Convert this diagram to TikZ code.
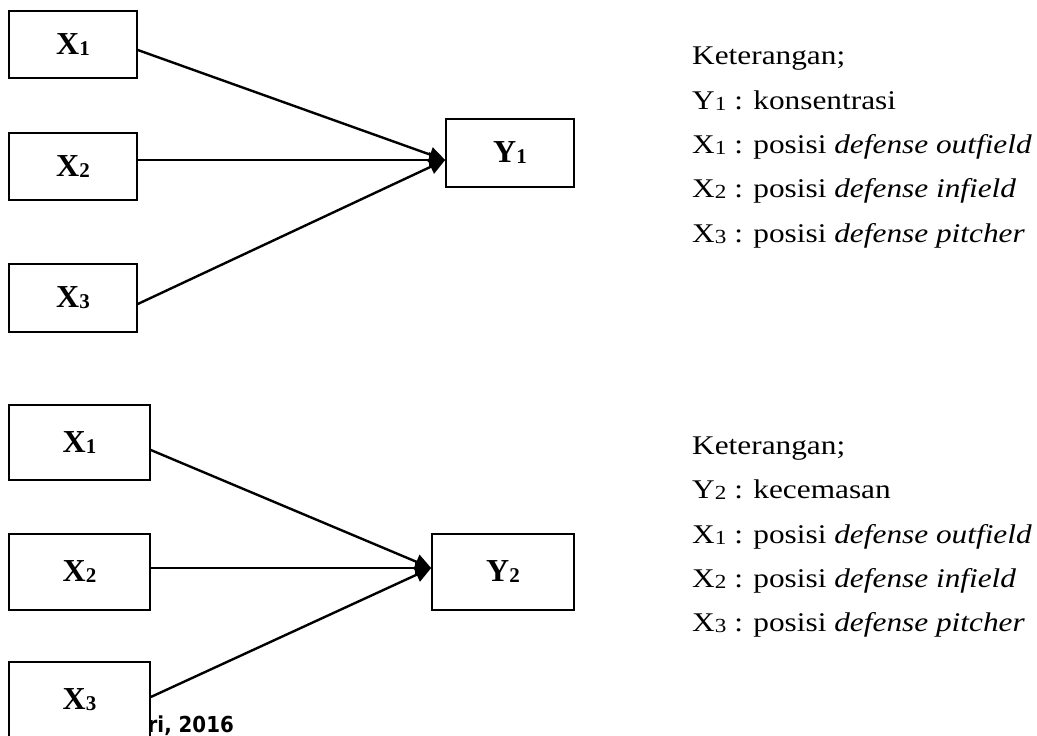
\documentclass[tikz,border=0pt]{standalone}
\usepackage{fontspec}
\setmainfont{Liberation Serif}
\newfontfamily\legendfont[FakeStretch=1.16]{Liberation Serif}
\newfontfamily\footfont[FakeStretch=0.9]{DejaVu Sans}
\usetikzlibrary{arrows.meta,calc}
\newcommand{\lowidx}[1]{\raisebox{-1.5pt}{\fontsize{20}{20}\selectfont #1}}
\newcommand{\boxidx}[1]{\raisebox{-1pt}{\fontsize{21}{21}\selectfont #1}}
\tikzset{
  varbox/.style={draw=black, line width=1.6pt, fill=white, rectangle, inner sep=0pt,
    font=\fontsize{32}{32}\selectfont\bfseries},
  conn/.style={line width=2.4pt, -{Triangle[length=16pt,width=15pt]}},
  legend/.style={anchor=base west, inner sep=0pt, font=\legendfont\fontsize{27}{27}\selectfont},
}
\begin{document}
\begin{tikzpicture}[x=1pt,y=-1pt]
\useasboundingbox (0,0) rectangle (1037,736);
% footer text partly hidden by the X3 box
\node[anchor=base east, inner sep=0pt, font=\footfont\bfseries\fontsize{22}{22}\selectfont] (foot) at (234,732) {ri, 2016};
% top diagram
\node[varbox, minimum width=128pt, minimum height=67pt] (ax1) at (73,44.5) {X\boxidx{1}};
\node[varbox, minimum width=128pt, minimum height=67pt] (ax2) at (73,166.5) {X\boxidx{2}};
\node[varbox, minimum width=128pt, minimum height=68pt] (ax3) at (73,298) {X\boxidx{3}};
\node[varbox, minimum width=128pt, minimum height=68pt] (ay1) at (510,153) {Y\boxidx{1}};
\coordinate (atip) at ([yshift=-7pt]ay1.west);
\draw[conn] ([yshift=-5.5pt]ax1.east) -- (atip);
\draw[conn] ([yshift=6.5pt]ax2.east) -- (atip);
\draw[conn] ([yshift=-6pt]ax3.east) -- (atip);
% bottom diagram
\node[varbox, minimum width=141pt, minimum height=75pt] (bx1) at (79.5,442.5) {X\boxidx{1}};
\node[varbox, minimum width=141pt, minimum height=76pt] (bx2) at (79.5,572) {X\boxidx{2}};
\node[varbox, minimum width=141pt, minimum height=76pt] (bx3) at (79.5,700) {X\boxidx{3}};
\node[varbox, minimum width=142pt, minimum height=76pt] (by2) at (503,572) {Y\boxidx{2}};
\coordinate (btip) at ([yshift=4pt]by2.west);
\draw[conn] ([yshift=-7.5pt]bx1.east) -- (btip);
\draw[conn] ([yshift=4pt]bx2.east) -- (btip);
\draw[conn] ([yshift=3pt]bx3.east) -- (btip);
% legends
\node[legend] (la0) at (692,64) {Keterangan;};
\node[legend] (la1) at (692,109) {Y\lowidx{1} : konsentrasi};
\node[legend] (la2) at (692,153) {X\lowidx{1} : posisi \textit{defense outfield}};
\node[legend] (la3) at (692,197) {X\lowidx{2} : posisi \textit{defense infield}};
\node[legend] (la4) at (692,242) {X\lowidx{3} : posisi \textit{defense pitcher}};
\node[legend] (lb0) at (692,454) {Keterangan;};
\node[legend] (lb1) at (692,498) {Y\lowidx{2} : kecemasan};
\node[legend] (lb2) at (692,543) {X\lowidx{1} : posisi \textit{defense outfield}};
\node[legend] (lb3) at (692,587) {X\lowidx{2} : posisi \textit{defense infield}};
\node[legend] (lb4) at (692,631) {X\lowidx{3} : posisi \textit{defense pitcher}};
\end{tikzpicture}
\end{document}
